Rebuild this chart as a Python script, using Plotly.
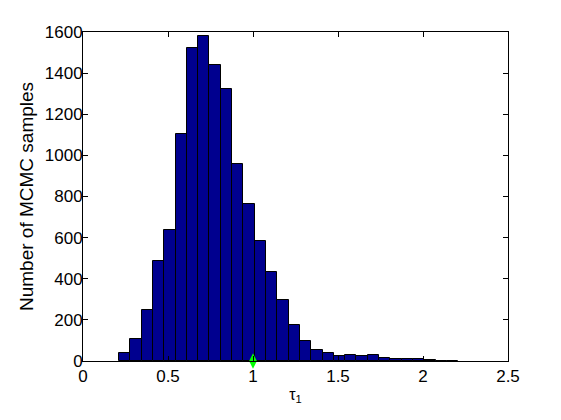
import numpy as np
import plotly.graph_objects as go

# Histogram data (MATLAB hist, 30 bins)
bin_start = 0.212
bin_width = 0.0665
counts = [40, 109, 250, 484, 635, 1103, 1522, 1580, 1439, 1322,
          957, 762, 583, 431, 295, 174, 96, 52, 39, 23,
          28, 23, 28, 13, 8, 8, 8, 3, 2, 2]
bin_centers = [bin_start + bin_width * (i + 0.5) for i in range(len(counts))]

true_x = [1.0]
true_y = [0]

x_ticks = [0, 0.5, 1, 1.5, 2, 2.5]
x_tick_labels = ["0", "0.5", "1", "1.5", "2", "2.5"]
y_ticks = [0, 200, 400, 600, 800, 1000, 1200, 1400, 1600]

fig = go.Figure()
fig.add_trace(go.Bar(
    x=bin_centers, y=counts, width=[bin_width] * len(counts),
    marker=dict(color="rgb(0,0,143)", line=dict(color="black", width=1)),
    showlegend=False, hoverinfo="x+y",
))
fig.add_trace(go.Scatter(
    x=true_x, y=true_y, mode="markers",
    marker=dict(symbol="diamond-tall", size=11, color="rgb(0,255,0)",
                line=dict(color="rgb(0,255,0)", width=0)),
    showlegend=False, cliponaxis=False,
))

fam = "Liberation Sans, Arial, Helvetica, sans-serif"
tick_font = dict(family=fam, size=17, color="black")
title_font = dict(family=fam, size=19, color="black")
fig.update_layout(
    width=561, height=420,
    margin=dict(l=75, r=61, t=24, b=67),
    paper_bgcolor="white", plot_bgcolor="white",
    font=tick_font,
    bargap=0,
    xaxis=dict(
        range=[0, 2.5], tickvals=x_ticks, ticktext=x_tick_labels,
        ticks="inside", ticklen=5, tickcolor="black", tickwidth=1,
        showline=True, linecolor="black", linewidth=1, mirror="ticks",
        showgrid=False, zeroline=False, tickfont=tick_font,
        title=dict(text="τ<sub>1</sub>", font=dict(family=fam, size=16, color="black"), standoff=3),
    ),
    yaxis=dict(
        range=[0, 1600], tickvals=y_ticks,
        ticks="inside", ticklen=5, tickcolor="black", tickwidth=1,
        showline=True, linecolor="black", linewidth=1, mirror="ticks",
        showgrid=False, zeroline=False, tickfont=tick_font,
        ticklabelstandoff=-4,
        title=dict(text="Number of MCMC samples", font=title_font, standoff=6),
    ),
)

fig.write_html("out.html")
